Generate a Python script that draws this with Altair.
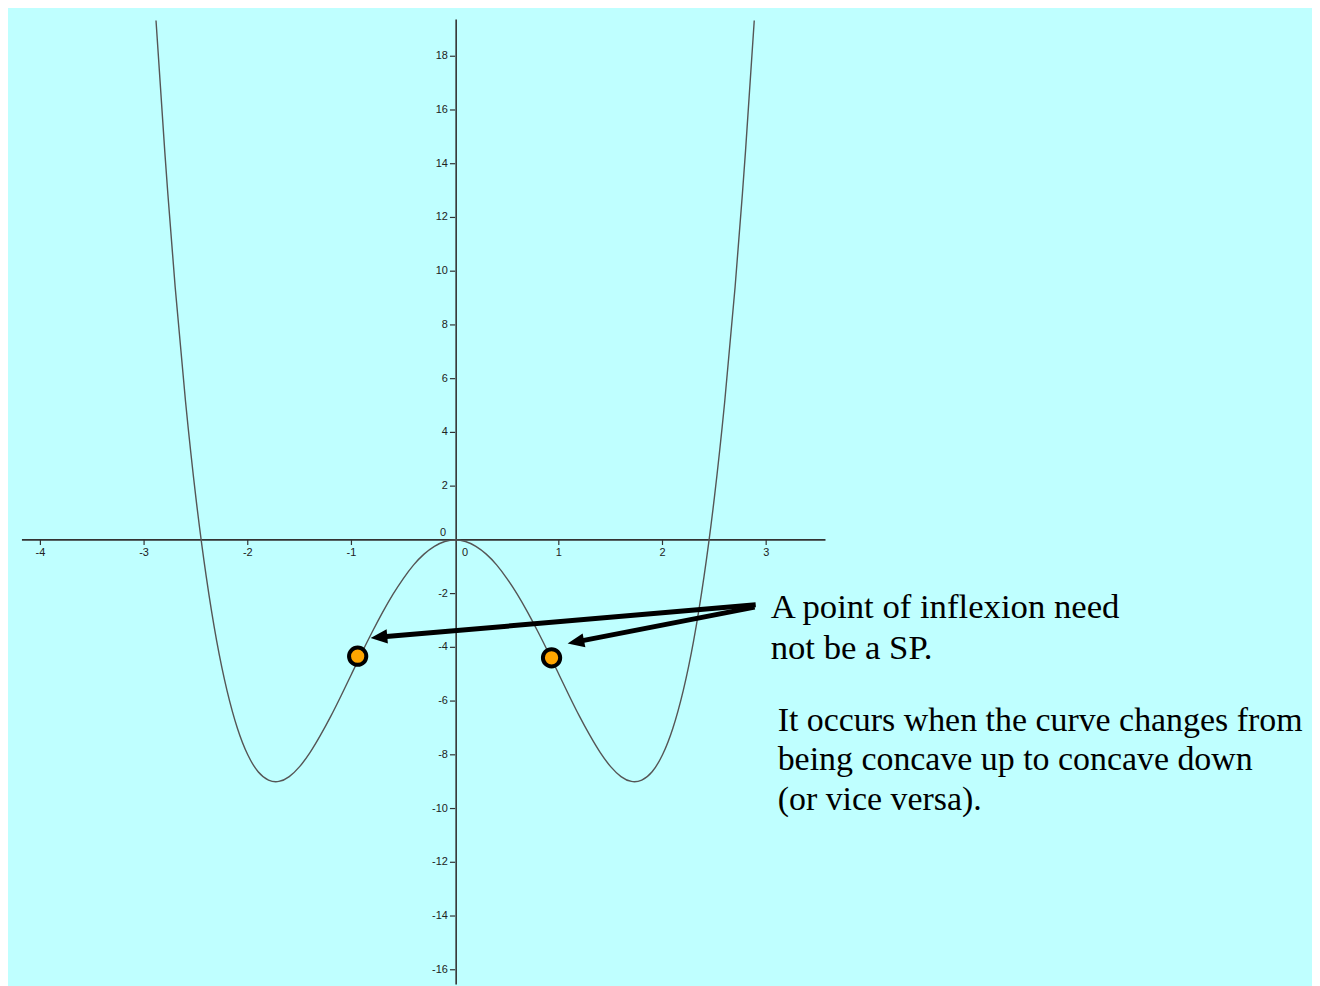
import altair as alt
import pandas as pd

# ---- data ----
curve_x = [-2.885, -2.8, -2.7, -2.6, -2.5, -2.4, -2.3, -2.2, -2.1, -2.0, -1.9, -1.8, -1.7,
           -1.6, -1.5, -1.4, -1.3, -1.2, -1.1, -1.0, -0.9, -0.8, -0.7, -0.6, -0.5, -0.4,
           -0.3, -0.2, -0.1, 0.0, 0.1, 0.2, 0.3, 0.4, 0.5, 0.6, 0.7, 0.8, 0.9, 1.0, 1.1,
           1.2, 1.3, 1.4, 1.5, 1.6, 1.7, 1.8, 1.9, 2.0, 2.1, 2.2, 2.3, 2.4, 2.5, 2.6, 2.7,
           2.8, 2.885]
curve_y = [19.33, 14.43, 9.40, 5.14, 1.56, -1.38, -3.76, -5.61, -7.01, -8.00, -8.63, -8.94,
           -8.99, -8.81, -8.44, -7.92, -7.28, -6.57, -5.80, -5.00, -4.20, -3.43, -2.70,
           -2.03, -1.44, -0.93, -0.53, -0.24, -0.06, 0.00, -0.06, -0.24, -0.53, -0.93,
           -1.44, -2.03, -2.70, -3.43, -4.20, -5.00, -5.80, -6.57, -7.28, -7.92, -8.44,
           -8.81, -8.99, -8.94, -8.63, -8.00, -7.01, -5.61, -3.76, -1.38, 1.56, 5.14,
           9.40, 14.43, 19.33]

x_ticks = [-4, -3, -2, -1, 1, 2, 3]
y_ticks = [-16, -14, -12, -10, -8, -6, -4, -2, 2, 4, 6, 8, 10, 12, 14, 16, 18]

dot_x = [-0.94, 0.93]
dot_y = [-4.33, -4.39]

arrow_start_x = [2.899, 2.889]
arrow_start_y = [-2.412, -2.505]
arrow_tip_x = [-0.815, 1.085]
arrow_tip_y = [-3.648, -3.859]
arrow_line_end_x = [-0.720, 1.179]
arrow_line_end_y = [-3.618, -3.788]
arrow_angle = [355, 349]

note1_lines = ["A point of inflexion need", "not be a SP."]
note2_lines = ["It occurs when the curve changes from",
               "being concave up to concave down",
               "(or vice versa)."]

# ---- layout constants ----
XMIN, XMAX = -4.3125, 8.2644
YMIN, YMAX = -16.549, 19.740
W, H = 1308, 978
BG = "#BFFFFF"
AX = "#333333"
SERIF = "Liberation Serif"
SANS = "Liberation Sans"

xs = alt.Scale(domain=[XMIN, XMAX], nice=False, zero=False)
ys = alt.Scale(domain=[YMIN, YMAX], nice=False, zero=False)


def X(f="x"):
    return alt.X(f"{f}:Q", scale=xs, axis=None)


def Y(f="y"):
    return alt.Y(f"{f}:Q", scale=ys, axis=None)


# axes lines
axes_df = pd.DataFrame({
    "x": [-4.178, 0.01], "x2": [3.572, 0.01],
    "y": [0.0, 19.37], "y2": [0.0, YMIN],
})
axes = alt.Chart(axes_df).mark_rule(color=AX, strokeWidth=1.6).encode(
    x=X(), x2="x2:Q", y=Y(), y2="y2:Q")

xt_df = pd.DataFrame({"x": x_ticks, "y": [0.0] * len(x_ticks),
                      "y2": [-0.19] * len(x_ticks),
                      "label": [str(v) for v in x_ticks]})
xticks = alt.Chart(xt_df).mark_rule(color=AX, strokeWidth=1.2).encode(
    x=X(), y=Y(), y2="y2:Q")
xlabels = alt.Chart(xt_df).mark_text(
    font=SANS, fontSize=11, color="#222222", baseline="middle", align="center", dy=13
).encode(x=X(), y=Y(), text="label:N")

yt_df = pd.DataFrame({"y": y_ticks, "x": [-0.05] * len(y_ticks),
                      "x2": [0.0] * len(y_ticks),
                      "label": [str(v) for v in y_ticks]})
yticks = alt.Chart(yt_df).mark_rule(color=AX, strokeWidth=1.2).encode(
    x=X(), x2="x2:Q", y=Y())
ylabels = alt.Chart(yt_df).mark_text(
    font=SANS, fontSize=11, color="#222222", baseline="middle", align="right", dx=-2
).encode(x=X(), y=Y(), text="label:N")

zero_df = pd.DataFrame({"x": [0.0, 0.0], "y": [0.0, 0.0], "label": ["0", "0"]})
zero_y = alt.Chart(zero_df.iloc[[0]]).mark_text(
    font=SANS, fontSize=11, color="#222222", baseline="middle", align="center", dx=-12, dy=-7
).encode(x=X(), y=Y(), text="label:N")
zero_x = alt.Chart(zero_df.iloc[[1]]).mark_text(
    font=SANS, fontSize=11, color="#222222", baseline="middle", align="center", dx=10, dy=13
).encode(x=X(), y=Y(), text="label:N")

curve_df = pd.DataFrame({"x": curve_x, "y": curve_y, "o": list(range(len(curve_x)))})
curve = alt.Chart(curve_df).mark_line(
    color="#555555", strokeWidth=1.4, interpolate="natural"
).encode(x=X(), y=Y(), order="o:Q")

dots_df = pd.DataFrame({"x": dot_x, "y": dot_y})
dots = alt.Chart(dots_df).mark_point(
    filled=True, fill="#FFA500", stroke="black", strokeWidth=4, size=300, opacity=1,
    shape="circle"
).encode(x=X(), y=Y())

arr_df = pd.DataFrame({"x": arrow_start_x, "y": arrow_start_y,
                       "x2": arrow_line_end_x, "y2": arrow_line_end_y})
arrow_lines = alt.Chart(arr_df).mark_rule(color="black", strokeWidth=5).encode(
    x=X(), y=Y(), x2="x2:Q", y2="y2:Q")

head_df = pd.DataFrame({"x": arrow_tip_x, "y": arrow_tip_y, "a": arrow_angle})
heads = alt.Chart(head_df).mark_point(
    filled=True, color="black", opacity=1, size=280,
    shape="M0,0 L2,-0.85 L2,0.85 Z"
).encode(x=X(), y=Y(), angle=alt.Angle("a:Q", scale=None))

note1_df = pd.DataFrame({"x": [3.043] * 2, "y": [-2.905, -4.416], "t": note1_lines})
note2_df = pd.DataFrame({"x": [3.111] * 3, "y": [-7.113, -8.571, -10.04], "t": note2_lines})
note1 = alt.Chart(note1_df).mark_text(
    font=SERIF, fontSize=34.8, color="black", align="left", baseline="alphabetic"
).encode(x=X(), y=Y(), text="t:N")
note2 = alt.Chart(note2_df).mark_text(
    font=SERIF, fontSize=34.0, color="black", align="left", baseline="alphabetic"
).encode(x=X(), y=Y(), text="t:N")

chart = alt.layer(
    axes, xticks, yticks, xlabels, ylabels, zero_y, zero_x, curve,
    arrow_lines, heads, dots, note1, note2
).properties(
    width=W, height=H, background=BG, padding=0,
    autosize=alt.AutoSizeParams(type="none")
).configure_view(stroke=None)

chart.save("out.html", embed_options={"renderer": "svg", "actions": False})
